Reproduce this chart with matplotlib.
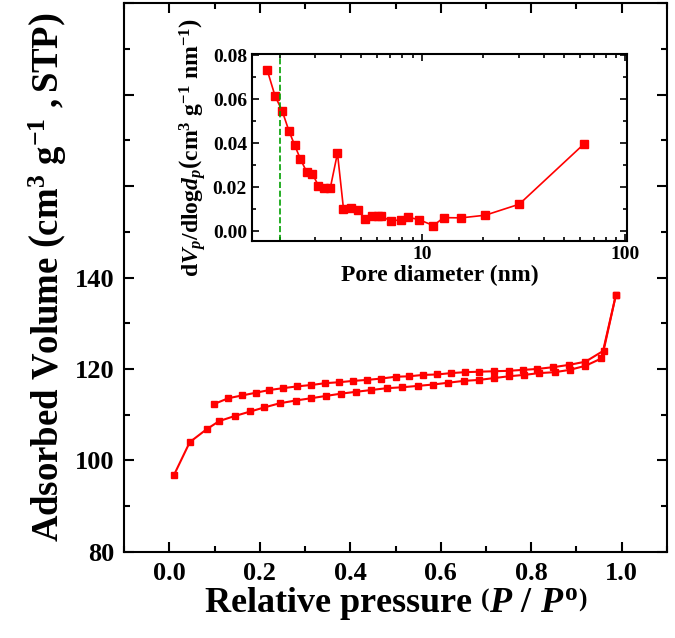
import numpy as np
import matplotlib
matplotlib.use("Agg")
import matplotlib.pyplot as plt
from matplotlib.ticker import MultipleLocator, NullFormatter, FuncFormatter

plt.rcParams['font.family'] = 'Liberation Serif'
plt.rcParams['font.weight'] = 'bold'
plt.rcParams['axes.labelweight'] = 'bold'
plt.rcParams['mathtext.fontset'] = 'custom'
plt.rcParams['mathtext.rm'] = 'Liberation Serif:bold'
plt.rcParams['mathtext.it'] = 'Liberation Serif:italic:bold'
plt.rcParams['mathtext.bf'] = 'Liberation Serif:bold'

# adsorption branch (lower)
ads_p = [0.010, 0.045, 0.082, 0.110, 0.144, 0.179, 0.210, 0.244, 0.279, 0.313,
         0.346, 0.379, 0.412, 0.446, 0.481, 0.515, 0.549, 0.583, 0.617, 0.651,
         0.684, 0.717, 0.750, 0.784, 0.818, 0.852, 0.885, 0.920, 0.955, 0.987]
ads_v = [96.8, 104.0, 106.8, 108.6, 109.7, 110.7, 111.6, 112.5, 113.1, 113.6,
         114.1, 114.6, 115.0, 115.4, 115.8, 116.0, 116.3, 116.6, 117.0, 117.4,
         117.6, 118.0, 118.4, 118.7, 119.1, 119.3, 119.8, 120.7, 122.3, 136.1]

# desorption branch (upper)
des_p = [0.098, 0.130, 0.160, 0.191, 0.221, 0.251, 0.283, 0.314, 0.345, 0.375,
         0.407, 0.436, 0.468, 0.500, 0.530, 0.561, 0.592, 0.623, 0.653, 0.684,
         0.717, 0.750, 0.781, 0.813, 0.849, 0.884, 0.920, 0.960, 0.987]
des_v = [112.3, 113.6, 114.2, 114.8, 115.4, 115.8, 116.2, 116.5, 116.9, 117.1,
         117.4, 117.6, 117.9, 118.3, 118.4, 118.7, 118.8, 119.1, 119.3, 119.4,
         119.5, 119.6, 119.8, 120.0, 120.4, 120.9, 121.6, 124.0, 136.1]

# pore size distribution
pore_d = [1.74, 1.90, 2.06, 2.22, 2.37, 2.53, 2.72, 2.90, 3.10, 3.32,
          3.55, 3.85, 4.12, 4.48, 4.85, 5.26, 5.67, 6.12, 6.28, 7.05,
          7.89, 8.54, 9.67, 11.4, 12.8, 15.6, 20.5, 30.1, 62.8]
pore_v = [0.0732, 0.0615, 0.0547, 0.0458, 0.0392, 0.0329, 0.0269, 0.0261, 0.0208, 0.0199,
          0.0197, 0.0355, 0.0103, 0.0106, 0.0097, 0.0056, 0.0070, 0.0071, 0.0071, 0.0046,
          0.0053, 0.0064, 0.0053, 0.0026, 0.0062, 0.0061, 0.0073, 0.0123, 0.0398]

red = '#ff0000'

fig = plt.figure(figsize=(6.75, 6.38), dpi=100)
ax = fig.add_axes([0.184, 0.135, 0.804, 0.860])
ax.plot(ads_p, ads_v, '-s', color=red, lw=1.5, ms=5)
ax.plot(des_p, des_v, '-s', color=red, lw=1.5, ms=5)
ax.set_xlim(-0.1, 1.1)
ax.set_ylim(80, 200)
ax.xaxis.set_major_locator(MultipleLocator(0.2))
ax.xaxis.set_minor_locator(MultipleLocator(0.1))
ax.yaxis.set_major_locator(MultipleLocator(20))
ax.yaxis.set_minor_locator(MultipleLocator(10))
ax.yaxis.set_major_formatter(FuncFormatter(lambda v, p: '%d' % v if v <= 140 else ''))
ax.tick_params(which='both', direction='in', top=True, right=True, width=1.5, labelsize=19)
ax.tick_params(which='major', length=7, pad=7)
ax.tick_params(which='minor', length=4)
for s in ax.spines.values():
    s.set_linewidth(1.5)
ax.set_xlabel(r'Relative pressure $\left(P\ /\ P^{\rm o}\right)$', fontsize=26, labelpad=0)
ax.set_ylabel(r'Adsorbed Volume $\left(\mathrm{cm}^{3}\ \mathrm{g}^{-1}\ ,\mathrm{STP}\right)$',
              fontsize=26.5, labelpad=4)

ins = fig.add_axes([0.373, 0.622, 0.556, 0.293])
ins.plot(pore_d, pore_v, '-s', color=red, lw=1.2, ms=6)
ins.axvline(2.0, color='#00a000', ls='--', lw=1.2)
ins.set_xscale('log')
ins.set_xlim(1.46, 102)
ins.set_ylim(-0.0045, 0.0805)
ins.yaxis.set_major_locator(MultipleLocator(0.02))
ins.yaxis.set_minor_locator(MultipleLocator(0.01))
ins.yaxis.set_major_formatter(FuncFormatter(lambda v, p: '%.2f' % v))
ins.xaxis.set_minor_formatter(NullFormatter())
ins.xaxis.set_major_formatter(FuncFormatter(lambda v, p: '%d' % v))
ins.tick_params(which='both', direction='in', top=True, right=True, width=1.2, labelsize=14)
ins.tick_params(which='major', length=5)
ins.tick_params(which='minor', length=3)
for s in ins.spines.values():
    s.set_linewidth(1.5)
ins.set_xlabel('Pore diameter (nm)', fontsize=17, labelpad=1)
ins.set_ylabel(r'd$V_p$/dlog$d_p$$\left(\mathrm{cm}^3\ \mathrm{g}^{-1}\ \mathrm{nm}^{-1}\right)$',
               fontsize=17, labelpad=3)

fig.savefig('out.png', dpi=100)
